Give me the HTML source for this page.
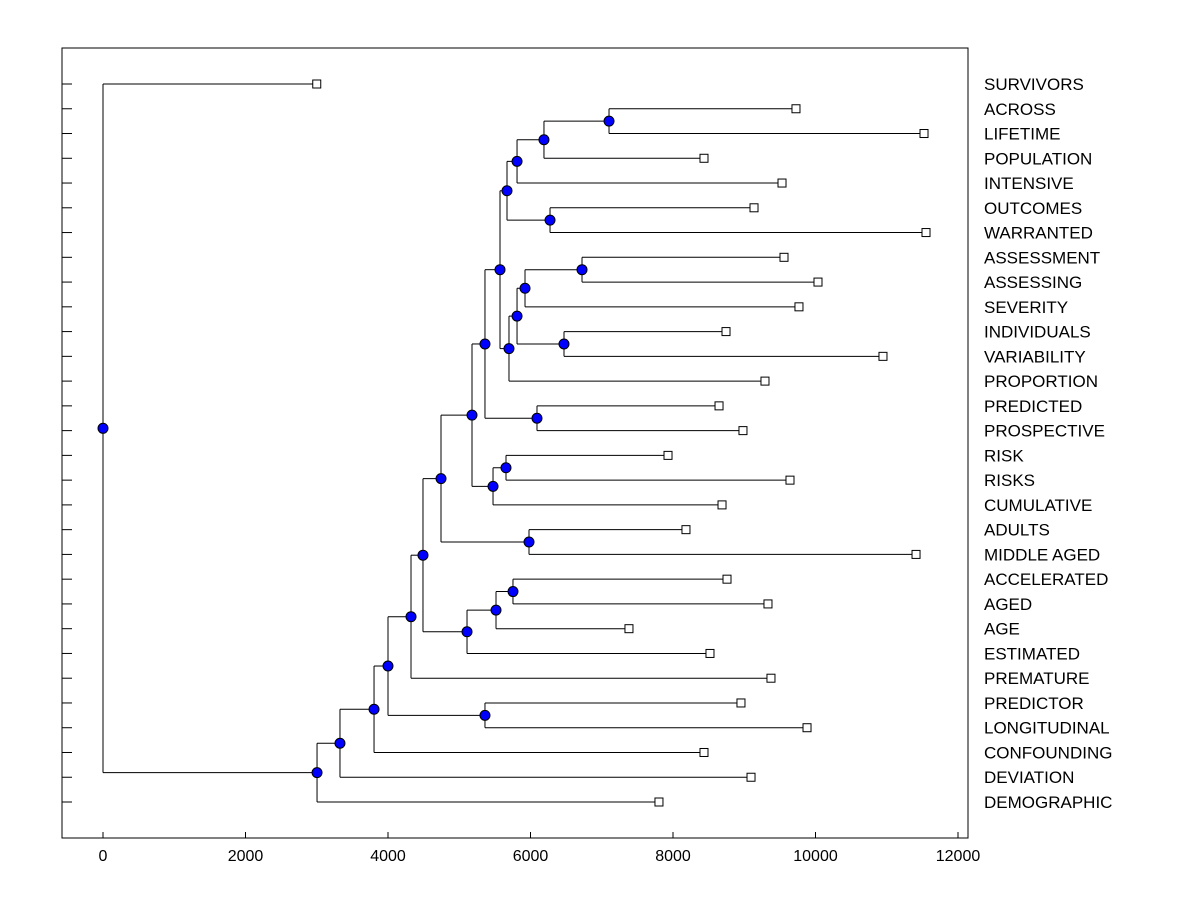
<!DOCTYPE html>
<html><head><meta charset="utf-8"><style>
body{margin:0;background:#fff;}
svg text{font-family:"Liberation Sans",Arial,sans-serif;}
</style></head><body>
<svg id="chart" width="1200" height="900" xmlns="http://www.w3.org/2000/svg"></svg>
<script>
const leafNames=["SURVIVORS","ACROSS","LIFETIME","POPULATION","INTENSIVE","OUTCOMES","WARRANTED","ASSESSMENT","ASSESSING","SEVERITY","INDIVIDUALS","VARIABILITY","PROPORTION","PREDICTED","PROSPECTIVE","RISK","RISKS","CUMULATIVE","ADULTS","MIDDLE AGED","ACCELERATED","AGED","AGE","ESTIMATED","PREMATURE","PREDICTOR","LONGITUDINAL","CONFOUNDING","DEVIATION","DEMOGRAPHIC"];
const leafValues=[3000,9726,11523,8435,9530,9137,11551,9558,10035,9768,8744,10947,9291,8646,8982,7930,9642,8688,8182,11411,8758,9333,7382,8519,9375,8954,9881,8435,9095,7803];
const nodeIds=["n609","n544","n517b","n550","n507","n582","n525","n564","n517","n509","n500","n537","n485b","n506","n493","n472","n529","n441","n513","n496","n467","n423","n411","n485","n388","n374","n340","n317","root"];
const nodeHeights=[7102,6189,5811,6274,5670,6723,5923,6470,5811,5698,5572,6091,5361,5656,5474,5179,5979,4744,5754,5516,5109,4491,4323,5361,4000,3804,3326,3004,0];
const nodeChildA=["L1","n609","n544","L5","n517b","L7","n582","L10","n525","n517","n507","L13","n500","L15","n506","n485b","L18","n472","L20","n513","n496","n441","n423","L25","n411","n388","n374","n340","L0"];
const nodeChildB=["L2","L3","L4","L6","n550","L8","L9","L11","n564","L12","n509","L14","n537","L16","L17","n493","L19","n529","L21","L22","L23","n467","L24","L26","n485","L27","L28","L29","n317"];
const xTicks=[0,2000,4000,6000,8000,10000,12000];

const svg=document.getElementById('chart');
const NS="http://www.w3.org/2000/svg";
const L=62,R=968,T=48,B=838;
const xs=v=>103+v*(958-103)/12000;
const ys=i=>84+i*(802-84)/29;
function mk(tag,attrs,name,parent){const e=document.createElementNS(NS,tag);for(const k in attrs)e.setAttribute(k,attrs[k]);


(parent||svg).appendChild(e);return e;}
mk('rect',{x:L,y:T,width:R-L,height:B-T,fill:'none',stroke:'#000','stroke-width':1},'plot-frame');
xTicks.forEach(t=>{const x=xs(t);
mk('line',{x1:x,x2:x,y1:B,y2:B-6,stroke:'#000'},'x-tick');
const tx=mk('text',{x:x,y:861,'text-anchor':'middle','font-size':16},'x-tick-label');tx.textContent=t;});
leafNames.forEach((n,i)=>{const y=ys(i);
mk('line',{x1:L,x2:L+10,y1:y,y2:y,stroke:'#000'},'y-tick');
const t=mk('text',{x:984,y:y+6,'font-size':17},'leaf-label');t.textContent=n;});
const pos={};
leafValues.forEach((v,i)=>pos['L'+i]={x:xs(v),y:ys(i)});
const lines=mk('g',{},'branches');const marks=mk('g',{},'markers');
nodeIds.forEach((id,k)=>{const a=pos[nodeChildA[k]],b=pos[nodeChildB[k]];const x=xs(nodeHeights[k]);
const y=(a.y+b.y)/2;pos[id]={x,y};
mk('line',{x1:x,x2:x,y1:a.y,y2:b.y,stroke:'#000'},'branch-vertical',lines);
mk('line',{x1:x,x2:a.x,y1:a.y,y2:a.y,stroke:'#000'},'branch-horizontal',lines);
mk('line',{x1:x,x2:b.x,y1:b.y,y2:b.y,stroke:'#000'},'branch-horizontal',lines);});
leafValues.forEach((v,i)=>{mk('rect',{x:xs(v)-4,y:ys(i)-4,width:8,height:8,fill:'#fff',stroke:'#000'},'leaf-marker',marks);});
nodeIds.forEach(id=>{mk('circle',{cx:pos[id].x,cy:pos[id].y,r:5,fill:'#0000ff',stroke:'#000'},'node-marker',marks);});
</script>
</body></html>
